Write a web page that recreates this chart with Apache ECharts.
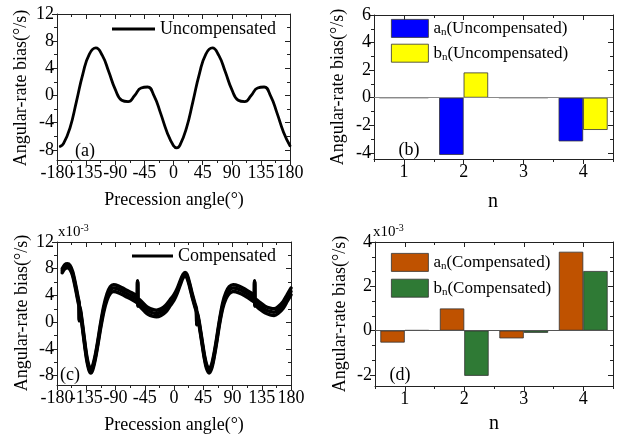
<!DOCTYPE html>
<html>
<head>
<meta charset="utf-8">
<script src="https://cdn.jsdelivr.net/npm/echarts@6/dist/echarts.min.js"></script>
<style>
  html, body { margin: 0; padding: 0; background: #fff; }
  #chart { width: 622px; height: 439px; }
</style>
</head>
<body>
<div id="chart"></div>
<script>
const FONT = 'Liberation Serif';
const AXIS_COLOR = '#222';

// (a) uncompensated angular-rate bias (°/s) against precession angle (°)
const uncompAngles = [-175, -170, -160, -150, -140, -130, -120, -110, -100, -90, -80, -70, -60, -50, -40, -30, -20, -10,
  0, 5, 10, 20, 30, 40, 50, 60, 70, 80, 90, 100, 110, 120, 130, 140, 150, 160, 170, 180];
const uncompBias = [-7.5, -7.1, -4.8, -0.9, 3.2, 6.1, 7.0, 5.9, 3.5, 0.9, -0.7, -0.9, 0.0, 1.1, 1.25, -0.05, -2.6, -5.4,
  -7.4, -7.7, -7.3, -4.8, -0.9, 3.2, 6.1, 7.0, 5.9, 3.5, 0.9, -0.7, -0.9, 0.0, 1.1, 1.25, -0.05, -2.6, -5.4, -7.4];

// (c) compensated bias (×10^-3 °/s): centre of the trace and its vertical spread
const compAngles = [-172, -168, -164, -160, -156, -152, -149, -147, -146, -145.5, -145, -143, -140, -137, -134, -131, -128,
  -125, -121, -117, -113, -108, -103, -98, -93, -85, -75, -65, -58, -56.5, -56, -55.5, -55, -50, -45, -40, -33, -27,
  -20, -13, -6, 0, 5, 10, 14, 17, 20, 24, 28, 32, 34.6, 35, 35.4, 38, 41, 44, 47, 50, 54, 58, 62, 66, 70, 75, 80, 85,
  91, 100, 110, 118, 122, 123.5, 124, 124.5, 125, 130, 140, 148, 154, 160, 168, 174, 180];
const compBias = [7.7, 8.3, 8.45, 8.2, 7.3, 5.6, 4.1, 3.1, 2.7, 0.3, 2.3, 1.0, -1.2, -3.5, -5.5, -6.8, -7.3,
  -6.8, -5.2, -3.0, -0.6, 2.0, 3.8, 4.8, 5.1, 4.9, 4.4, 3.9, 3.5, 3.4, 6.1, 2.6, 3.0, 2.6, 2.1, 1.7, 1.4, 1.3,
  1.5, 2.0, 2.9, 3.7, 4.7, 6.0, 6.9, 7.2, 6.9, 5.6, 4.0, 2.6, 1.7, -0.3, 1.5, 0.2, -1.6, -3.5, -5.3, -6.6, -7.3, -6.6, -4.8, -2.5, 0.0, 2.5, 4.0, 4.8,
  5.1, 4.9, 4.4, 3.9, 3.6, 3.5, 6.1, 2.6, 3.0, 2.6, 1.9, 1.6, 1.5, 1.8, 2.6, 3.6, 4.6];
const compSpread = [0.6, 0.6, 0.6, 0.6, 0.6, 0.6, 0.6, 0.6, 0.6, 0.2, 0.4, 0.6, 0.6, 0.6, 0.6, 0.6, 0.6,
  0.6, 0.6, 0.6, 0.7, 0.8, 0.9, 1.0, 1.0, 1.0, 1.0, 1.0, 1.0, 1.0, 0.2, 0.4, 1.0, 1.0, 1.0, 1.0, 1.0, 1.0,
  1.0, 1.0, 0.9, 0.8, 0.7, 0.6, 0.5, 0.5, 0.5, 0.5, 0.5, 0.5, 0.5, 0.2, 0.4, 0.5, 0.5, 0.5, 0.5, 0.6, 0.6, 0.6, 0.6, 0.6, 0.6, 0.8, 0.9, 1.0,
  1.0, 1.0, 1.0, 1.0, 1.0, 1.0, 0.2, 0.4, 1.0, 1.0, 1.0, 1.0, 1.0, 1.0, 1.0, 1.0, 1.0];

// (b), (d) Fourier coefficients for harmonic order n
const harmonicN = ['1', '2', '3', '4'];
const anUncomp = [0, -4.15, 0, -3.17];
const bnUncomp = [0, 1.83, 0, -2.34];
const anComp = [-0.54, 1.0, -0.35, 3.56];   // ×10^-3
const bnComp = [0.02, -2.04, -0.1, 2.69];   // ×10^-3

// tick positions
const angleTicks = [-180, -135, -90, -45, 0, 45, 90, 135, 180];
const angleMinor = [-157.5, -112.5, -67.5, -22.5, 22.5, 67.5, 112.5, 157.5];
const biasTicks = [-8, -4, 0, 4, 8, 12];
const biasMinor = [-6, -2, 2, 6, 10];
const nTicks = [1, 2, 3, 4];
const nMinor = [0.5, 1.5, 2.5, 3.5, 4.5];
const coefTicksB = [-4, -2, 0, 2, 4, 6];
const coefMinorB = [-3, -1, 1, 3, 5];
const coefTicksD = [-2, 0, 2, 4];
const coefMinorD = [-4 / 3, -2 / 3, 2 / 3, 4 / 3, 8 / 3, 10 / 3];

const grids = [
  { left: 57, top: 14, width: 233, height: 146 },
  { left: 374, top: 15, width: 239, height: 144 },
  { left: 57, top: 242, width: 234, height: 143 },
  { left: 375, top: 242, width: 238, height: 144 }
];

const xAxes = [];
const yAxes = [];
const tickLine = { color: AXIS_COLOR, width: 1 };

// Boxed frame: labelled axis with major/minor ticks outside,
// mirrored axis on the opposite side with ticks inside.
// Labels alternate between two stacked axes so tightly packed labels all stay visible.
function addAxisSet(list, dim, grid, min, max, labels, majors, minors) {
  const sides = dim === 'x' ? ['bottom', 'top'] : ['left', 'right'];
  const base = { type: 'value', gridIndex: grid, min: min, max: max, splitLine: { show: false } };
  const labelStyle = values => ({
    show: true, customValues: values, color: '#000', fontFamily: FONT, fontSize: 18,
    margin: dim === 'x' ? 4 : 3, hideOverlap: false, showMinLabel: true, showMaxLabel: true
  });
  const mainIndex = list.length;
  list.push(Object.assign({}, base, {
    position: sides[0],
    axisLine: { show: true, onZero: false, lineStyle: tickLine },
    axisTick: { show: true, customValues: majors, length: 5, lineStyle: tickLine },
    axisLabel: labelStyle(labels.filter((v, i) => i % 2 === 0))
  }));
  list.push(Object.assign({}, base, {
    position: sides[0],
    axisLine: { show: false, onZero: false },
    axisTick: { show: true, customValues: minors, length: 3, lineStyle: tickLine },
    axisLabel: labelStyle(labels.filter((v, i) => i % 2 === 1))
  }));
  list.push(Object.assign({}, base, {
    position: sides[1],
    axisLine: { show: true, onZero: false, lineStyle: tickLine },
    axisTick: { show: true, inside: true, customValues: majors, length: 5, lineStyle: tickLine },
    axisLabel: { show: false }
  }));
  list.push(Object.assign({}, base, {
    position: sides[1],
    axisLine: { show: false, onZero: false },
    axisTick: { show: true, inside: true, customValues: minors, length: 3, lineStyle: tickLine },
    axisLabel: { show: false }
  }));
  return mainIndex;
}

const axA = { x: addAxisSet(xAxes, 'x', 0, -180, 180, angleTicks, angleTicks, angleMinor),
              y: addAxisSet(yAxes, 'y', 0, -9.5, 12, biasTicks, biasTicks, biasMinor) };
const axB = { x: addAxisSet(xAxes, 'x', 1, 0.5, 4.5, nTicks, nTicks, nMinor),
              y: addAxisSet(yAxes, 'y', 1, -4.45, 6, coefTicksB, coefTicksB, coefMinorB) };
const axC = { x: addAxisSet(xAxes, 'x', 2, -180, 180, angleTicks, angleTicks, angleMinor),
              y: addAxisSet(yAxes, 'y', 2, -9.4, 12, biasTicks, biasTicks, biasMinor) };
const axD = { x: addAxisSet(xAxes, 'x', 3, 0.5, 4.5, nTicks, nTicks, nMinor),
              y: addAxisSet(yAxes, 'y', 3, -2.5, 4, coefTicksD, coefTicksD, coefMinorD) };

// hidden category axes that place the bar groups
function addBarCategoryAxis(grid) {
  xAxes.push({ type: 'category', gridIndex: grid, data: harmonicN, show: false, boundaryGap: true });
  return xAxes.length - 1;
}
const catB = addBarCategoryAxis(1);
const catD = addBarCategoryAxis(3);

const pairs = (xs, ys) => xs.map((x, i) => [x, ys[i]]);
const compUpper = compBias.map((v, i) => v + compSpread[i] / 2);
const compLower = compBias.map((v, i) => v - compSpread[i] / 2);

function traceSeries(name, xIdx, yIdx, data, width, smooth) {
  return {
    name: name, type: 'line', xAxisIndex: xIdx, yAxisIndex: yIdx, data: data,
    smooth: smooth, symbol: 'none', clip: true,
    itemStyle: { color: '#000' },
    lineStyle: { color: '#000', width: width, join: 'round', cap: 'round' }
  };
}

function barSeries(name, xIdx, yIdx, data, color) {
  return {
    name: name, type: 'bar', xAxisIndex: xIdx, yAxisIndex: yIdx, data: data,
    barGap: '0%', barCategoryGap: '18%',
    itemStyle: { color: color, borderColor: '#333', borderWidth: 0.8 }
  };
}

function zeroLine(color) {
  return {
    silent: true, symbol: ['none', 'none'], label: { show: false },
    lineStyle: { color: color, width: 1, type: 'solid' },
    data: [{ yAxis: 0 }]
  };
}

const series = [];
series.push(traceSeries('Uncompensated', axA.x, axA.y, pairs(uncompAngles, uncompBias), 2.8, 0.5));

const aB = barSeries('an(Uncompensated)', catB, axB.y, anUncomp, '#0000FF');
aB.markLine = zeroLine('#8a8a8a');
series.push(aB);
series.push(barSeries('bn(Uncompensated)', catB, axB.y, bnUncomp, '#FFFF00'));

series.push(traceSeries('compensated upper edge', axC.x, axC.y, pairs(compAngles, compUpper), 3.5, 0.3));
series.push(traceSeries('compensated lower edge', axC.x, axC.y, pairs(compAngles, compLower), 3.5, 0.3));
series.push(traceSeries('Compensated', axC.x, axC.y, pairs(compAngles, compBias), 3.5, 0.3));

const aD = barSeries('an(Compensated)', catD, axD.y, anComp, '#BF5200');
aD.markLine = zeroLine('#555');
series.push(aD);
series.push(barSeries('bn(Compensated)', catD, axD.y, bnComp, '#2F7A35'));

// legend text with subscript n
const subRich = {
  t: { fontFamily: FONT, fontSize: 17, color: '#000', lineHeight: 18 },
  s: { fontFamily: FONT, fontSize: 11, color: '#000', lineHeight: 11, padding: [7, 0, 0, 0] }
};
const coefLegendText = name => '{t|' + name.charAt(0) + '}{s|n}{t|' + name.slice(2) + '}';

const lineLegend = (name, left, top, width) => ({
  data: [{ name: name, icon: 'rect' }], left: left, top: top, padding: 0,
  itemWidth: width, itemHeight: 3, selectedMode: false,
  itemStyle: { borderWidth: 0 },
  textStyle: { fontFamily: FONT, fontSize: 18, color: '#000', lineHeight: 20 }
});
const barLegend = (names, top, gap) => ({
  data: names.map(n => ({ name: n, icon: 'rect' })), orient: 'vertical', left: 391, top: top, padding: 0,
  itemWidth: 37, itemHeight: 18, itemGap: gap, selectedMode: false,
  itemStyle: { borderWidth: 0.8, borderColor: '#333' },
  formatter: coefLegendText,
  textStyle: { rich: subRich }
});

const textEl = (text, x, y, size, rot) => ({
  type: 'text', x: x, y: y, rotation: rot || 0, silent: true,
  style: { text: text, font: size + 'px "' + FONT + '"', fill: '#000',
           align: 'center', verticalAlign: 'middle', textAlign: 'center', textVerticalAlign: 'middle' }
});
const scaleEl = (x, y) => ({
  type: 'text', x: x, y: y, silent: true,
  style: {
    text: '{m|x10}{p|-3}', align: 'left', verticalAlign: 'middle',
    rich: {
      m: { fontFamily: FONT, fontSize: 15, fill: '#000', lineHeight: 16 },
      p: { fontFamily: FONT, fontSize: 10, fill: '#000', lineHeight: 10, padding: [0, 0, 7, 0] }
    }
  }
});

const yTitle = 'Angular-rate bias(°/s)';
const option = {
  animation: false,
  backgroundColor: '#fff',
  grid: grids,
  xAxis: xAxes,
  yAxis: yAxes,
  legend: [
    lineLegend('Uncompensated', 112, 19, 43),
    barLegend(['an(Uncompensated)', 'bn(Uncompensated)'], 19, 6),
    lineLegend('Compensated', 132, 246, 41),
    barLegend(['an(Compensated)', 'bn(Compensated)'], 253, 7)
  ],
  graphic: { elements: [
    textEl(yTitle, 21, 88, 18, Math.PI / 2),
    textEl(yTitle, 338, 87, 18, Math.PI / 2),
    textEl(yTitle, 22, 313, 18, Math.PI / 2),
    textEl(yTitle, 340, 314, 18, Math.PI / 2),
    textEl('Precession angle(°)', 174, 200, 18),
    textEl('n', 493, 202, 20),
    textEl('Precession angle(°)', 174, 425, 18),
    textEl('n', 494, 424, 20),
    textEl('(a)', 85, 151, 18),
    textEl('(b)', 409, 150, 18),
    textEl('(c)', 70, 375, 18),
    textEl('(d)', 400, 375, 18),
    scaleEl(58, 232),
    scaleEl(373, 232)
  ] },
  series: series
};

const chart = echarts.init(document.getElementById('chart'), null, { renderer: 'canvas' });
chart.setOption(option);
</script>
</body>
</html>
